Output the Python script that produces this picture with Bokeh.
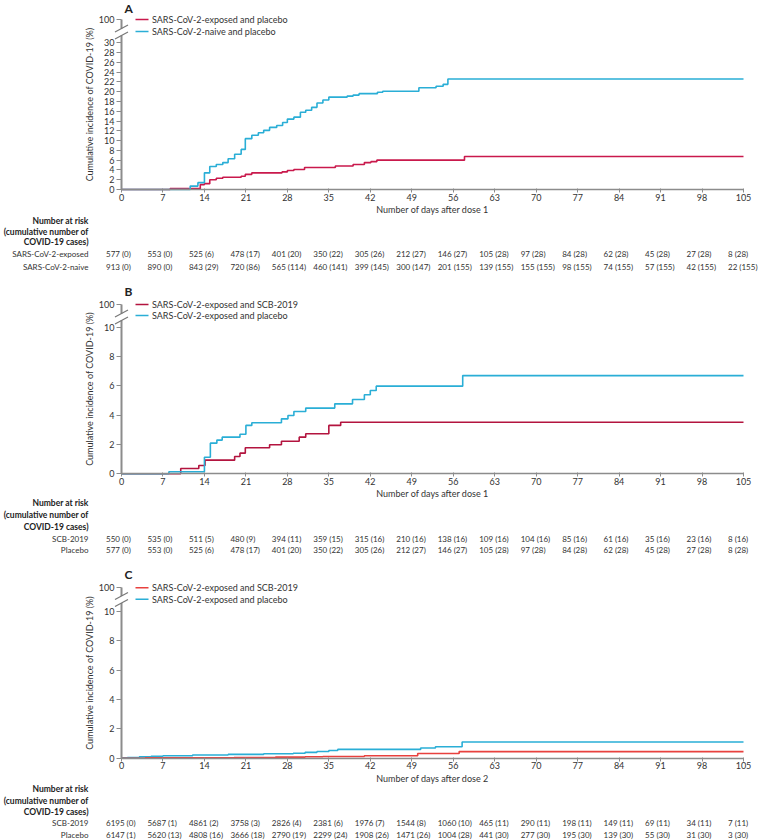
from bokeh.plotting import figure
from bokeh.models import Range1d, FixedTicker, ColumnDataSource
from bokeh.layouts import column
from bokeh.embed import file_html
from bokeh.resources import INLINE
from bokeh.core.properties import value

FONT = "Lato"

# ---------------------------------------------------------------- data
day_ticks = list(range(0, 106, 7))

# Panel A
a_exposed_days = [0, 8.2, 13.3, 14.0, 14.9, 16.0, 17.1, 20.2, 20.9, 22.0, 27.1, 28.0, 29.1,
                  30.9, 36.1, 39.1, 41.0, 42.1, 43.1, 57.9, 105]
a_exposed_pct = [0, 0.17, 1.0, 1.2, 2.0, 2.3, 2.5, 2.7, 3.1, 3.4, 3.6, 3.9, 4.1,
                 4.5, 4.8, 5.1, 5.5, 5.7, 6.0, 6.75, 6.75]
a_naive_days = [0, 11.6, 12.9, 14.0, 14.9, 16.0, 17.1, 18.0, 19.1, 20.2, 20.9, 22.0, 23.1,
                24.0, 25.0, 26.2, 27.2, 28.0, 29.1, 30.2, 31.1, 32.1, 33.0, 34.0, 35.0,
                38.1, 39.1, 40.1, 43.2, 44.1, 50.2, 53.1, 54.3, 55.1, 105]
a_naive_pct = [0, 0.7, 1.4, 3.4, 4.7, 5.1, 5.5, 6.3, 7.2, 8.2, 10.4, 11.1, 11.6,
               12.1, 12.7, 13.1, 13.7, 14.4, 14.8, 15.8, 16.2, 16.8, 17.7, 18.3, 18.9,
               19.1, 19.3, 19.6, 19.9, 20.1, 20.8, 21.1, 21.5, 22.6, 22.6]
a_exposed_at_risk = [577, 553, 525, 478, 401, 350, 305, 212, 146, 105, 97, 84, 62, 45, 27, 8]
a_exposed_cases = [0, 0, 6, 17, 20, 22, 26, 27, 27, 28, 28, 28, 28, 28, 28, 28]
a_naive_at_risk = [913, 890, 843, 720, 565, 460, 399, 300, 201, 139, 155, 98, 74, 57, 42, 22]
a_naive_cases = [0, 0, 29, 86, 114, 141, 145, 147, 155, 155, 155, 155, 155, 155, 155, 155]

# Panel B
b_scb_days = [0, 10.0, 13.05, 14.1, 19.1, 20.0, 20.9, 25.0, 27.0, 30.0, 31.1, 35.0, 37.0, 105]
b_scb_pct = [0, 0.36, 0.57, 0.93, 1.18, 1.41, 1.78, 1.98, 2.22, 2.5, 2.73, 3.3, 3.52, 3.52]
b_placebo_days = [0, 8.0, 14.0, 15.0, 16.1, 17.0, 20.0, 21.0, 22.0, 27.0, 28.1, 29.1, 31.1,
                  36.0, 39.0, 41.0, 42.0, 43.0, 57.6, 105]
b_placebo_pct = [0, 0.14, 1.13, 2.09, 2.3, 2.5, 2.7, 3.3, 3.48, 3.75, 3.98, 4.25, 4.48,
                 4.77, 5.07, 5.39, 5.68, 5.98, 6.7, 6.7]
b_scb_at_risk = [550, 535, 511, 480, 394, 359, 315, 210, 138, 109, 104, 85, 61, 35, 23, 8]
b_scb_cases = [0, 0, 5, 9, 11, 15, 16, 16, 16, 16, 16, 16, 16, 16, 16, 16]
b_placebo_at_risk = [577, 553, 525, 478, 401, 350, 305, 212, 146, 105, 97, 84, 62, 45, 27, 8]
b_placebo_cases = [0, 0, 6, 17, 20, 22, 26, 27, 27, 28, 28, 28, 28, 28, 28, 28]

# Panel C
c_scb_days = [0, 4, 11, 19, 26, 31, 34, 41, 50, 57, 105]
c_scb_pct = [0, 0.02, 0.03, 0.05, 0.07, 0.1, 0.12, 0.17, 0.32, 0.45, 0.45]
c_placebo_days = [0, 1, 3, 5, 7, 12, 18, 24, 29, 31, 33, 35, 36.5, 50.5, 53, 57.5, 105]
c_placebo_pct = [0.02, 0.04, 0.09, 0.13, 0.17, 0.22, 0.26, 0.3, 0.34, 0.4, 0.46, 0.52,
                 0.6, 0.7, 0.78, 1.1, 1.1]
c_scb_at_risk = [6195, 5687, 4861, 3758, 2826, 2381, 1976, 1544, 1060, 465, 290, 198, 149, 69, 34, 7]
c_scb_cases = [0, 1, 2, 3, 4, 6, 7, 8, 10, 11, 11, 11, 11, 11, 11, 11]
c_placebo_at_risk = [6147, 5620, 4808, 3666, 2790, 2299, 1908, 1471, 1004, 441, 277, 195, 139, 55, 31, 3]
c_placebo_cases = [1, 13, 16, 18, 19, 24, 26, 26, 28, 30, 30, 30, 30, 30, 30, 30]

header_lines = ["Number at risk", "(cumulative number of", "COVID-19 cases)"]

# ---------------------------------------------------------------- layout constants
W = 758
AXIS_X_PX = 121                 # where day 0 sits, from canvas left
PLOT_W_PX = 622                 # width of day 0..105
PX_PER_DAY = PLOT_W_PX / 105.0
X_START = -AXIS_X_PX / PX_PER_DAY
X_END = (W - AXIS_X_PX) / PX_PER_DAY
ROW_LABEL_X = -33 / PX_PER_DAY          # right edge of row labels, in days
NUM_SHIFT = 15.5 / PX_PER_DAY           # numbers start this far left of tick
AXIS_GREY = "#8c8c8c"
TXT = "#333333"


def px_x(px):
    return px / PX_PER_DAY


def make_panel(letter, fig_h, above_px, ypx, y_ticks, hundred_px, break_px,
               series, legend_order, legend_top, item_h, xlabel, row_names, rows,
               table_offsets):
    below_px = fig_h - above_px
    y_max = above_px / ypx
    y_min = -below_px / ypx
    y_hundred = hundred_px / ypx
    p = figure(width=W, height=fig_h, output_backend="svg", toolbar_location=None,
               title=None, x_range=Range1d(X_START, X_END), y_range=Range1d(y_min, y_max),
               min_border=0)
    p.grid.visible = False
    p.outline_line_color = None
    p.background_fill_color = "white"
    p.border_fill_color = "white"

    for days, pct, color, name in series:
        p.step(x=days, y=pct, mode="after", line_color=color, line_width=1.6)

    # key (drawn from the series names and colours)
    ly = [y_max - (legend_top + item_h * (i + 0.5)) / ypx for i in range(len(legend_order))]
    lsrc = ColumnDataSource(dict(
        x0=[px_x(14)] * len(ly), x1=[px_x(27)] * len(ly), y=ly,
        tx=[px_x(30.5)] * len(ly),
        c=[s[2] for s in legend_order], t=[s[3] for s in legend_order]))
    p.segment(x0="x0", x1="x1", y0="y", y1="y", line_color="c", line_width=1.6, source=lsrc)
    p.text(x="tx", y="y", text="t", source=lsrc, text_align="left", text_baseline="middle",
           text_font=value(FONT), text_font_size="9px", text_color=TXT)

    # x axis, drawn through y = 0
    xa = p.xaxis[0]
    xa.fixed_location = 0
    xa.bounds = (0, 105)
    xa.ticker = FixedTicker(ticks=day_ticks)
    xa.axis_line_color = AXIS_GREY
    xa.axis_line_width = 1.5
    xa.major_tick_line_color = AXIS_GREY
    xa.major_tick_out = 3
    xa.major_tick_in = 1
    xa.minor_tick_line_color = None
    xa.major_label_text_font = FONT
    xa.major_label_text_font_size = "9px"
    xa.major_label_text_color = TXT
    xa.major_label_standoff = 1
    xa.axis_label = xlabel
    xa.axis_label_standoff = 0
    xa.axis_label_text_font = FONT
    xa.axis_label_text_font_size = "9px"
    xa.axis_label_text_font_style = "normal"
    xa.axis_label_text_color = TXT

    # y axis through x = 0 (broken: top tick stands for 100)
    ya = p.yaxis[0]
    ya.fixed_location = 0
    ya.ticker = FixedTicker(ticks=y_ticks + [y_hundred])
    ya.major_label_overrides = {y_hundred: "100"}
    ya.bounds = (0, y_hundred)
    ya.axis_line_color = AXIS_GREY
    ya.axis_line_width = 2
    ya.major_tick_line_color = AXIS_GREY
    ya.major_tick_out = 5
    ya.major_tick_in = 0
    ya.minor_tick_line_color = None
    ya.major_label_text_font = FONT
    ya.major_label_text_font_size = "9px"
    ya.major_label_text_color = TXT
    ya.major_label_standoff = 2
    ya.axis_label = "Cumulative incidence of COVID-19 (%)"
    ya.axis_label_standoff = 1
    ya.axis_label_text_font = FONT
    ya.axis_label_text_font_size = "9px"
    ya.axis_label_text_font_style = "normal"
    ya.axis_label_text_color = TXT

    # axis break: white gap plus two slanted strokes, drawn above the axis
    c = break_px / ypx
    gap = p.quad(left=[-px_x(2.5)], right=[px_x(2.5)], bottom=[c - 3.5 / ypx],
                 top=[c + 3.5 / ypx], fill_color="white", line_color=None)
    gap.level = "overlay"
    sl = p.segment(x0=[-px_x(6.5)] * 2, x1=[px_x(6.5)] * 2,
                   y0=[c - 7 / ypx, c], y1=[c, c + 7 / ypx],
                   line_color="#777777", line_width=1.2)
    sl.level = "overlay"

    # panel letter
    p.text(x=[px_x(3)], y=[y_max], text=[letter], text_align="left", text_baseline="top",
           text_font=value(FONT), text_font_style="bold", text_font_size="12px",
           text_color="#222222")

    # number-at-risk table
    head_off = table_offsets[:3]
    row_off = table_offsets[3:]
    hsrc = ColumnDataSource(dict(x=[ROW_LABEL_X] * 3, y=[-o / ypx for o in head_off],
                                 t=header_lines))
    p.text(x="x", y="y", text="t", source=hsrc, text_align="right",
           text_baseline="middle", text_font=value(FONT), text_font_style="bold",
           text_font_size="8.5px", text_color="#222222")
    rsrc = ColumnDataSource(dict(x=[ROW_LABEL_X] * 2, y=[-o / ypx for o in row_off],
                                 t=row_names))
    p.text(x="x", y="y", text="t", source=rsrc, text_align="right",
           text_baseline="middle", text_font=value(FONT), text_font_size="8px",
           text_color=TXT)
    xs, ys, ts = [], [], []
    for (n_list, c_list), off in zip(rows, row_off):
        for d, n, cc in zip(day_ticks, n_list, c_list):
            xs.append(d - NUM_SHIFT)
            ys.append(-off / ypx)
            ts.append(f"{n} ({cc})")
    nsrc = ColumnDataSource(dict(x=xs, y=ys, t=ts))
    p.text(x="x", y="y", text="t", source=nsrc, text_align="left",
           text_baseline="middle", text_font=value(FONT), text_font_size="8px",
           text_color=TXT)
    return p


RED_A = "#c9194c"
RED_B = "#b3143f"
RED_C = "#e8413e"
BLUE = "#2aaed6"

sA = [(a_exposed_days, a_exposed_pct, RED_A, "SARS-CoV-2-exposed and placebo"),
      (a_naive_days, a_naive_pct, BLUE, "SARS-CoV-2-naive and placebo")]
pA = make_panel(
    "A", fig_h=283, above_px=189, ypx=4.89,
    y_ticks=list(range(0, 31, 2)), hundred_px=170, break_px=157.5,
    series=sA, legend_order=sA, legend_top=13, item_h=12,
    xlabel="Number of days after dose 1",
    row_names=["SARS-CoV-2-exposed", "SARS-CoV-2-naive"],
    rows=[(a_exposed_at_risk, a_exposed_cases), (a_naive_at_risk, a_naive_cases)],
    table_offsets=[31, 42, 52.7, 64.3, 77])

sB = [(b_scb_days, b_scb_pct, RED_B, "SARS-CoV-2-exposed and SCB-2019"),
      (b_placebo_days, b_placebo_pct, BLUE, "SARS-CoV-2-exposed and placebo")]
pB = make_panel(
    "B", fig_h=283, above_px=190.3, ypx=14.66,
    y_ticks=[0, 2, 4, 6, 8, 10], hundred_px=169.3, break_px=156.8,
    series=sB, legend_order=sB, legend_top=15.5, item_h=11,
    xlabel="Number of days after dose 1",
    row_names=["SCB-2019", "Placebo"],
    rows=[(b_scb_at_risk, b_scb_cases), (b_placebo_at_risk, b_placebo_cases)],
    table_offsets=[29.4, 41, 53.4, 65, 75.7])

sC = [(c_scb_days, c_scb_pct, RED_C, "SARS-CoV-2-exposed and SCB-2019"),
      (c_placebo_days, c_placebo_pct, BLUE, "SARS-CoV-2-exposed and placebo")]
pC = make_panel(
    "C", fig_h=274, above_px=191.7, ypx=14.67,
    y_ticks=[0, 2, 4, 6, 8, 10], hundred_px=170.4, break_px=158.7,
    series=[sC[1], sC[0]], legend_order=sC, legend_top=15.6, item_h=11.4,
    xlabel="Number of days after dose 2",
    row_names=["SCB-2019", "Placebo"],
    rows=[(c_scb_at_risk, c_scb_cases), (c_placebo_at_risk, c_placebo_cases)],
    table_offsets=[30.6, 42.3, 53.3, 65, 76.6])

layout = column(pA, pB, pC)
open("out.html", "w").write(file_html(layout, INLINE))
